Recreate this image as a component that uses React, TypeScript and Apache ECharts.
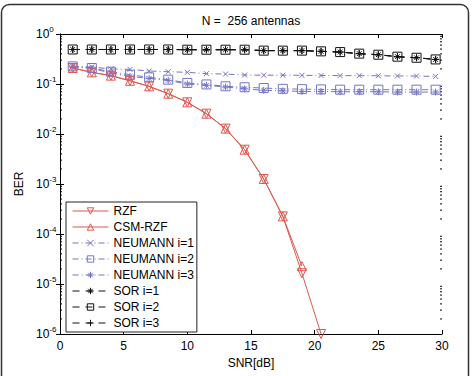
import React, { useEffect, useRef } from 'react';
import * as echarts from 'echarts';

const SNR = [1, 2.5, 4, 5.5, 7, 8.5, 10, 11.5, 13, 14.5, 16, 17.5, 19, 20.5, 22, 23.5, 25, 26.5, 28, 29.5];
const RZF = [0.209, 0.171, 0.147, 0.116, 0.0896, 0.064, 0.043, 0.0255, 0.0128, 0.00485, 0.00126, 2.25e-4, 1.64e-5, 1e-6];
const CSM_RZF = [0.209, 0.171, 0.147, 0.116, 0.0896, 0.064, 0.043, 0.0255, 0.0128, 0.00485, 0.00126, 2.25e-4, 2.27e-5];
const NEUMANN_1 = [0.225, 0.219, 0.2, 0.196, 0.182, 0.176, 0.171, 0.161, 0.158, 0.151, 0.15, 0.15, 0.149, 0.148, 0.147, 0.147, 0.146, 0.145, 0.144, 0.142];
const NEUMANN_2 = [0.225, 0.209, 0.176, 0.153, 0.136, 0.122, 0.105, 0.098, 0.09, 0.086, 0.083, 0.08, 0.079, 0.078, 0.077, 0.077, 0.077, 0.077, 0.077, 0.077];
const NEUMANN_3 = [0.22, 0.205, 0.166, 0.142, 0.129, 0.118, 0.1, 0.094, 0.087, 0.08, 0.075, 0.073, 0.071, 0.071, 0.07, 0.07, 0.07, 0.069, 0.069, 0.069];
const SOR_1 = [0.49, 0.49, 0.49, 0.49, 0.49, 0.49, 0.485, 0.485, 0.485, 0.485, 0.465, 0.465, 0.465, 0.45, 0.435, 0.405, 0.385, 0.352, 0.335, 0.31];
const SOR_2 = [0.49, 0.49, 0.49, 0.49, 0.49, 0.49, 0.485, 0.485, 0.485, 0.485, 0.465, 0.465, 0.465, 0.45, 0.435, 0.405, 0.385, 0.352, 0.335, 0.31];
const SOR_3 = [0.49, 0.49, 0.49, 0.49, 0.49, 0.49, 0.485, 0.485, 0.485, 0.485, 0.465, 0.465, 0.465, 0.45, 0.435, 0.405, 0.385, 0.352, 0.335, 0.31];

const X_MIN = 0;
const X_MAX = 30;
const X_INTERVAL = 5;
const Y_MIN = 1e-6;
const Y_MAX = 1;
const MINOR_DECADES = [-6, -5, -4, -3, -2, -1];
const MINOR_MULT = [2, 3, 4, 5, 6, 7, 8, 9];

const TITLE = 'N =  256 antennas';
const X_NAME = 'SNR[dB]';
const Y_NAME = 'BER';

const FONT = '"Liberation Sans", Arial, Helvetica, sans-serif';
const RED = '#e2574c';
const BLUE = '#7474c8';
const BLACK = '#111111';
const NOFILL = 'rgba(255,255,255,0)';

const X_PATH = 'path://M0,0L10,10M10,0L0,10';
const ASTER_PATH = 'path://M5,0L5,10M0,5L10,5M1.6,1.6L8.4,8.4M8.4,1.6L1.6,8.4';
const PLUS_PATH = 'path://M5,0L5,10M0,5L10,5';

const pair = (ys: number[]) => ys.map((y, i) => [SNR[i], y]);

function lineSeries(name: string, ys: number[], color: string, symbol: string, size: number, dash: any, extra: any = {}) {
  return {
    name,
    type: 'line',
    data: pair(ys),
    symbol,
    symbolSize: size,
    lineStyle: { color, width: 1, type: dash },
    itemStyle: { color: NOFILL, borderColor: color, borderWidth: 1 },
    emphasis: { disabled: true },
    ...extra,
  };
}

export default function App() {
  const ref = useRef<HTMLDivElement>(null);
  useEffect(() => {
    if (!ref.current) return;
    const chart = echarts.init(ref.current, null, { renderer: 'svg' });
    const minorData: number[][] = [];
    MINOR_DECADES.forEach((d) => MINOR_MULT.forEach((m) => minorData.push([X_MIN, m * Math.pow(10, d)])));

    const dashDot = [6, 3, 1, 3];
    const dashed = [7, 6];

    const option: any = {
      animation: false,
      backgroundColor: '#ffffff',
      textStyle: { fontFamily: FONT },
      title: {
        text: TITLE,
        left: 251,
        top: 15,
        padding: 0,
        textAlign: 'center',
        textStyle: { fontFamily: FONT, fontSize: 12, fontWeight: 'normal', color: '#000' },
      },
      graphic: [
        {
          type: 'rect',
          shape: { x: 1.5, y: 4.5, width: 467, height: 400, r: 8 },
          style: { fill: 'none', stroke: '#333', lineWidth: 1.5 },
          silent: true,
          z: 100,
        },
      ],
      grid: { left: 60, right: 32, top: 34, bottom: 42 },
      legend: {
        orient: 'vertical',
        left: 66,
        top: 202,
        padding: [3, 3, 3, 6],
        itemGap: 4,
        itemWidth: 36,
        itemHeight: 8,
        backgroundColor: '#fff',
        borderColor: '#222',
        borderWidth: 1,
        borderRadius: 0,
        lineStyle: { width: 1 },
        itemStyle: { borderWidth: 1 },
        textStyle: { fontFamily: FONT, fontSize: 12, color: '#000', lineHeight: 12 },
        data: ['RZF', 'CSM-RZF', 'NEUMANN i=1', 'NEUMANN i=2', 'NEUMANN i=3', 'SOR i=1', 'SOR i=2', 'SOR i=3'],
        selectedMode: false,
        z: 50,
      },
      xAxis: [
        {
          type: 'value',
          min: X_MIN,
          max: X_MAX,
          interval: X_INTERVAL,
          position: 'bottom',
          name: X_NAME,
          nameLocation: 'middle',
          nameGap: 21,
          nameTextStyle: { fontFamily: FONT, fontSize: 12, color: '#000' },
          axisLine: { show: true, lineStyle: { color: '#000', width: 1 } },
          axisTick: { show: true, inside: true, length: 4, lineStyle: { color: '#000' } },
          axisLabel: { margin: 6, fontFamily: FONT, fontSize: 12, color: '#000' },
          splitLine: { show: false },
        },
        {
          type: 'value',
          min: X_MIN,
          max: X_MAX,
          interval: X_INTERVAL,
          position: 'top',
          axisLine: { show: true, lineStyle: { color: '#000', width: 1 } },
          axisTick: { show: true, inside: true, length: 4, lineStyle: { color: '#000' } },
          axisLabel: { show: false },
          splitLine: { show: false },
        },
      ],
      yAxis: [
        {
          type: 'log',
          logBase: 10,
          min: Y_MIN,
          max: Y_MAX,
          position: 'left',
          name: Y_NAME,
          nameLocation: 'middle',
          nameGap: 30,
          nameTextStyle: { fontFamily: FONT, fontSize: 12, color: '#000' },
          axisLine: { show: true, lineStyle: { color: '#000', width: 1 } },
          axisTick: { show: true, inside: true, length: 4, lineStyle: { color: '#000' } },
          axisLabel: {
            margin: 24,
            align: 'left',
            formatter: (v: number) => `{b|10}{s|${Math.round(Math.log10(v))}}`,
            rich: {
              b: { fontFamily: FONT, fontSize: 12, color: '#000' },
              s: { fontFamily: FONT, fontSize: 8, color: '#000', padding: [0, 0, 9, 0] },
            },
          },
          splitLine: { show: false },
        },
        {
          type: 'log',
          logBase: 10,
          min: Y_MIN,
          max: Y_MAX,
          position: 'right',
          axisLine: { show: true, lineStyle: { color: '#000', width: 1 } },
          axisTick: { show: true, inside: true, length: 4, lineStyle: { color: '#000' } },
          axisLabel: { show: false },
          splitLine: { show: false },
        },
      ],
      series: [
        {
          name: 'minor',
          type: 'custom',
          silent: true,
          data: minorData,
          clip: false,
          renderItem: (params: any, api: any) => {
            const p = api.coord([X_MIN, api.value(1)]);
            const cs = params.coordSys;
            return {
              type: 'group',
              children: [
                { type: 'line', shape: { x1: cs.x, y1: p[1], x2: cs.x + 2, y2: p[1] }, style: { stroke: '#000', lineWidth: 1 } },
                { type: 'line', shape: { x1: cs.x + cs.width - 2, y1: p[1], x2: cs.x + cs.width, y2: p[1] }, style: { stroke: '#000', lineWidth: 1 } },
              ],
            };
          },
        },
        lineSeries('SOR i=1', SOR_1, BLACK, ASTER_PATH, 7, dashed),
        lineSeries('SOR i=2', SOR_2, BLACK, 'rect', 9, dashed),
        lineSeries('SOR i=3', SOR_3, BLACK, PLUS_PATH, 7, dashed),
        lineSeries('NEUMANN i=1', NEUMANN_1, BLUE, X_PATH, 5, dashDot),
        lineSeries('NEUMANN i=2', NEUMANN_2, BLUE, 'rect', 9, dashDot),
        lineSeries('NEUMANN i=3', NEUMANN_3, BLUE, ASTER_PATH, 7, dashDot),
        lineSeries('RZF', RZF, RED, 'triangle', 9, 'solid', { symbolRotate: 180 }),
        lineSeries('CSM-RZF', CSM_RZF, RED, 'triangle', 9, 'solid'),
      ],
    };
    chart.setOption(option);
    return () => chart.dispose();
  }, []);
  return <div ref={ref} style={{ position: 'fixed', left: 0, top: 0, width: 474, height: 376 }} />;
}
